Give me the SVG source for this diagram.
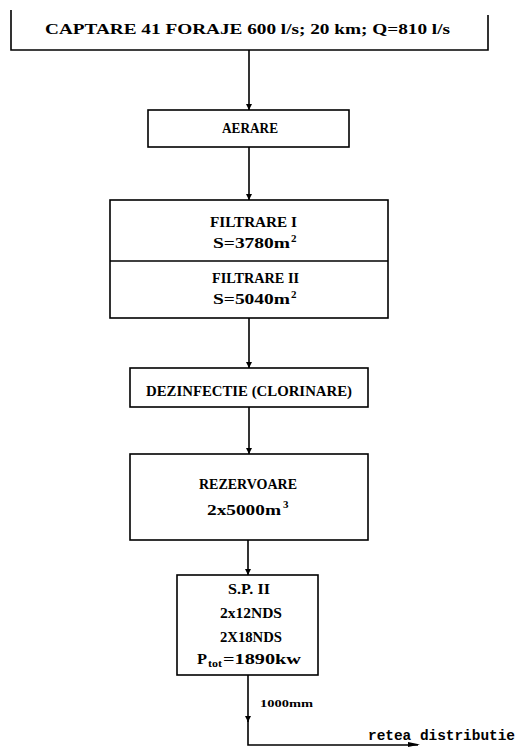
<svg xmlns="http://www.w3.org/2000/svg" width="519" height="747" viewBox="0 0 519 747">
<defs>
<style>
.box{fill:#fff;stroke:#000;stroke-width:1.6}
.ln{fill:none;stroke:#000;stroke-width:1.6}
.t{font-family:"Liberation Serif","Times New Roman",serif;font-weight:bold;font-size:14.5px;fill:#000;text-anchor:middle}
.l{font-family:"Liberation Serif","Times New Roman",serif;font-weight:bold;font-size:14.5px;fill:#000}
.sup{font-family:"Liberation Serif","Times New Roman",serif;font-weight:bold;font-size:11px;fill:#000}
.m{font-family:"Liberation Mono","Courier New",monospace;font-weight:bold;font-size:14.5px;fill:#000}
.s{font-family:"Liberation Serif",serif;font-weight:bold;font-size:10.5px;fill:#000}
</style>
<marker id="ah" viewBox="0 0 10 10" refX="10" refY="5" markerWidth="6" markerHeight="10" markerUnits="userSpaceOnUse" orient="auto">
<path d="M0,0 L10,5 L0,10 z" fill="#000"/>
</marker>
</defs>
<rect width="519" height="747" fill="#fff"/>
<g id="connectors">
<line class="ln" x1="249" y1="50" x2="249" y2="110" marker-end="url(#ah)"/>
<line class="ln" x1="249" y1="147" x2="249" y2="200" marker-end="url(#ah)"/>
<line class="ln" x1="249" y1="318" x2="249" y2="368" marker-end="url(#ah)"/>
<line class="ln" x1="249" y1="407" x2="249" y2="454" marker-end="url(#ah)"/>
<line class="ln" x1="248" y1="540" x2="248" y2="575" marker-end="url(#ah)"/>
<line class="ln" x1="248" y1="675" x2="248" y2="722" marker-end="url(#ah)"/>
<path class="ln" d="M248,720 L248,745 L418,745"/>
<path d="M408,742 L420,744.5 L408,747 z" fill="#000"/>
</g>
<g id="captare">
<path class="ln" d="M11,10 L11,50 L488,50 L488,15"/>
<text class="l" x="45" y="34" font-size="14.5" textLength="405" lengthAdjust="spacingAndGlyphs">CAPTARE 41 FORAJE 600 l/s; 20 km; Q=810 l/s</text>
</g>
<g id="aerare">
<rect class="box" x="148" y="110" width="201" height="37"/>
<text class="l" x="222" y="133" textLength="56" lengthAdjust="spacingAndGlyphs">AERARE</text>
</g>
<g id="filtrare">
<rect class="box" x="110" y="200" width="278" height="118"/>
<line class="ln" x1="110" y1="261" x2="388" y2="261"/>
<text class="l" x="210" y="227" textLength="87" lengthAdjust="spacingAndGlyphs">FILTRARE I</text>
<text class="l" x="213" y="248" textLength="77" lengthAdjust="spacingAndGlyphs">S=3780m</text>
<text class="sup" x="291" y="242">2</text>
<text class="l" x="212" y="283" textLength="87" lengthAdjust="spacingAndGlyphs">FILTRARE II</text>
<text class="l" x="213" y="304" textLength="77" lengthAdjust="spacingAndGlyphs">S=5040m</text>
<text class="sup" x="291" y="298">2</text>
</g>
<g id="dezinfectie">
<rect class="box" x="130" y="368" width="238" height="39"/>
<text class="l" x="146" y="396" textLength="206" lengthAdjust="spacingAndGlyphs">DEZINFECTIE  (CLORINARE)</text>
</g>
<g id="rezervoare">
<rect class="box" x="130" y="454" width="238" height="86"/>
<text class="l" x="199" y="489" textLength="98" lengthAdjust="spacingAndGlyphs">REZERVOARE</text>
<text class="l" x="207" y="515" textLength="74" lengthAdjust="spacingAndGlyphs">2x5000m</text>
<text class="sup" x="283" y="508">3</text>
</g>
<g id="sp2">
<rect class="box" x="177" y="575" width="141" height="100"/>
<text class="l" x="228" y="594" textLength="42" lengthAdjust="spacingAndGlyphs">S.P. II</text>
<text class="l" x="220" y="618" textLength="62" lengthAdjust="spacingAndGlyphs">2x12NDS</text>
<text class="l" x="220" y="642" textLength="62" lengthAdjust="spacingAndGlyphs">2X18NDS</text>
<text class="l" x="197" y="664" textLength="10" lengthAdjust="spacingAndGlyphs">P</text>
<text class="sup" x="208" y="667" font-size="10" textLength="14" lengthAdjust="spacingAndGlyphs">tot</text>
<text class="l" x="223" y="664" textLength="78" lengthAdjust="spacingAndGlyphs">=1890kw</text>
</g>
<g id="labels">
<text class="s" x="260" y="707" textLength="53" lengthAdjust="spacingAndGlyphs">1000mm</text>
<text class="m" x="368" y="740" textLength="147" lengthAdjust="spacingAndGlyphs">retea distributie</text>
</g>
</svg>
